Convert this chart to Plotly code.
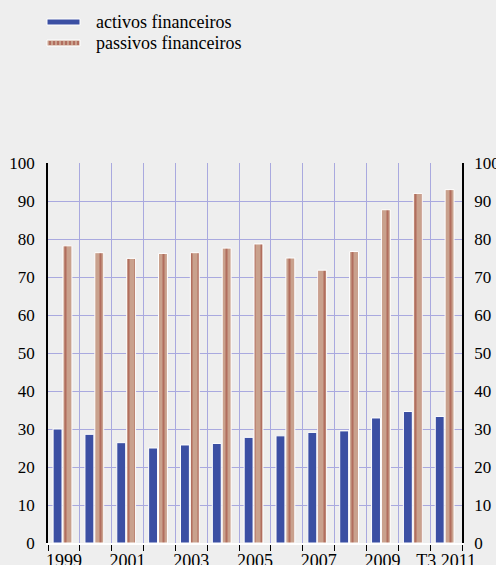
import plotly.graph_objects as go

categories = ["1999", "2000", "2001", "2002", "2003", "2004", "2005", "2006",
              "2007", "2008", "2009", "2010", "T3 2011"]
tick_labels = ["1999", "", "2001", "", "2003", "", "2005", "", "2007", "", "2009", "", "T3 2011"]
activos = [30.0, 28.6, 26.4, 25.0, 25.8, 26.2, 27.8, 28.2, 29.1, 29.5, 32.9, 34.6, 33.3]
passivos = [78.2, 76.4, 74.9, 76.2, 76.4, 77.6, 78.7, 75.0, 71.8, 76.7, 87.7, 92.0, 93.0]
series_names = ["activos financeiros", "passivos financeiros"]

BLUE = "#3b4fa3"
TAN = "#c9a18d"
RED = "#9a3b30"
GRID = "#a9a9df"
BG = "#eeeeee"
FONT = "Liberation Serif"

L, R, T, B = 48, 34, 163, 22
W, H = 496, 565
PW, PH = W - L - R, H - T - B


def px_x(x):
    return (x - L) / PW


def px_y(y):
    return (H - B - y) / PH


fig = go.Figure()
fig.add_trace(go.Bar(x=categories, y=activos, name=series_names[0],
                     width=0.28, offset=-0.34,
                     marker=dict(color=BLUE, line=dict(color="white", width=1)),
                     showlegend=False))
fig.add_trace(go.Bar(x=categories, y=passivos, name=series_names[1],
                     width=0.28, offset=-0.03,
                     marker=dict(color=TAN, line=dict(color="white", width=1),
                                 pattern=dict(shape="|", fgcolor=RED, bgcolor=TAN,
                                              size=7, solidity=0.3)),
                     showlegend=False))
fig.add_trace(go.Scatter(x=[categories[0]], y=[0], yaxis="y2", mode="markers",
                         marker=dict(opacity=0, size=1), showlegend=False, hoverinfo="skip"))

shapes = []
annotations = []
for i, name in enumerate(series_names):
    y0 = 19 + 21 * i
    fill = BLUE if i == 0 else TAN
    shapes.append(dict(type="rect", xref="paper", yref="paper",
                       x0=px_x(47), x1=px_x(80), y0=px_y(y0 + 6), y1=px_y(y0),
                       fillcolor=fill, line=dict(color="white", width=1)))
    if i == 1:
        for k in range(8):
            xs = 50 + 4 * k
            shapes.append(dict(type="line", xref="paper", yref="paper",
                               x0=px_x(xs), x1=px_x(xs), y0=px_y(y0 + 5), y1=px_y(y0 + 1),
                               line=dict(color=RED, width=1)))
    annotations.append(dict(text=name, xref="paper", yref="paper",
                            x=px_x(94), y=px_y(y0 + 3),
                            xanchor="left", yanchor="middle", showarrow=False,
                            font=dict(family=FONT, size=18, color="black")))

fig.update_layout(
    width=W, height=H,
    margin=dict(l=L, r=R, t=T, b=B, autoexpand=False),
    paper_bgcolor=BG, plot_bgcolor=BG,
    barmode="group",
    font=dict(family=FONT, size=17, color="black"),
    shapes=shapes, annotations=annotations,
    xaxis=dict(type="category", tickvals=categories, ticktext=tick_labels,
               range=[-0.5, len(categories) - 0.5],
               tickson="boundaries", ticks="outside", ticklen=6, tickcolor="black",
               showgrid=True, gridcolor=GRID, gridwidth=1, automargin=False,
               showline=True, linecolor="white", linewidth=2,
               tickfont=dict(family=FONT, size=18), tickangle=0),
    yaxis=dict(range=[0, 100], dtick=10, showgrid=True, gridcolor=GRID,
               showline=True, linecolor="black", linewidth=1.5, automargin=False,
               zeroline=False, ticks="", ticklabelstandoff=8,
               tickfont=dict(family=FONT, size=17)),
    yaxis2=dict(range=[0, 100], dtick=10, overlaying="y", side="right",
                showgrid=False, showline=True, linecolor="black", linewidth=1.5,
                zeroline=False, ticks="", ticklabelstandoff=7, automargin=False,
                tickfont=dict(family=FONT, size=17)),
)

post = (
    "document.body.style.margin='0';"
    "document.body.style.background='#eeeeee';"
    "var st=document.createElement('style');"
    "st.textContent='svg text{font-family:\"Liberation Serif\",\"Times New Roman\",Times,serif !important;}';"
    "document.head.appendChild(st);"
    "var gd=document.getElementById('{plot_id}');"
    "Plotly.relayout(gd,{});"
    "setTimeout(function(){Plotly.relayout(gd,{});},50);"
)

fig.write_html("out.html", config={"displayModeBar": False}, post_script=post)
